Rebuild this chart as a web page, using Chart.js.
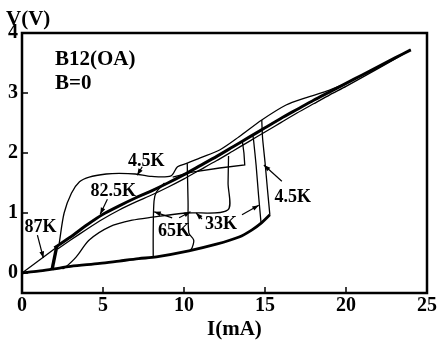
<!DOCTYPE html>
<html>
<head>
<meta charset="utf-8">
<script src="https://cdn.jsdelivr.net/npm/chart.js@4.4.1/dist/chart.umd.min.js"></script>
<style>
  html, body { margin: 0; padding: 0; background: #fff; }
  #wrap { width: 438px; height: 343px; }
</style>
</head>
<body>
<div id="wrap"><canvas id="ivChart"></canvas></div>
<script>
// tick labels
var xTicks = [0, 5, 10, 15, 20, 25];
var yTicks = [0, 1, 2, 3, 4];

// common upper branch (thick)
var mainI = [2, 3, 4, 5, 6, 7, 8, 9, 10, 11, 12, 13, 14, 15, 16, 17, 18, 19, 20, 21, 22, 23, 24];
var mainV = [0.42, 0.6, 0.8, 0.98, 1.12, 1.25, 1.37, 1.5, 1.64, 1.79, 1.94, 2.1, 2.26, 2.42, 2.58, 2.73, 2.88, 3.02, 3.16, 3.3, 3.44, 3.58, 3.72];

// 87K ohmic start
var k87I = [0, 1, 2.1];
var k87V = [0, 0.2, 0.42];

// 82.5K, thin line just under the upper branch
var k82I = [2.2, 3, 4, 5, 6, 7, 8, 9, 10, 11, 12, 13, 14, 15, 16, 17, 18, 19, 20, 22, 24];
var k82V = [0.4, 0.55, 0.73, 0.9, 1.05, 1.18, 1.3, 1.43, 1.57, 1.72, 1.87, 2.03, 2.19, 2.35, 2.51, 2.67, 2.82, 2.97, 3.11, 3.41, 3.72];

// common lower branch (thick)
var lowI = [0, 1, 2, 3, 4.8, 6, 7.2, 8.3, 10.3, 12, 13.4, 14.2, 14.8, 15.3];
var lowV = [0, 0.03, 0.07, 0.11, 0.16, 0.2, 0.24, 0.27, 0.37, 0.48, 0.6, 0.72, 0.84, 0.97];

// 4.5K: return path (hump, plateau, fall)
var k45I = [20, 18.8, 17.5, 16.3, 14.8, 13.4, 12.2, 11, 10.2, 9.6, 9.2, 8, 7, 6, 5.2, 4.15, 3.55, 3.05, 2.6, 2.3];
var k45V = [3.16, 3.03, 2.92, 2.8, 2.55, 2.27, 2.05, 1.92, 1.83, 1.77, 1.62, 1.61, 1.65, 1.66, 1.65, 1.6, 1.52, 1.33, 1.0, 0.5];
// 4.5K: switching up near 15 mA
var k45upI = [15.3, 15.15, 15.0, 14.85, 14.8];
var k45upV = [0.97, 1.4, 1.85, 2.25, 2.55];
// 4.5K: steep drop near 2 mA (thick)
var k45dropI = [2.15, 1.85];
var k45dropV = [0.45, 0.05];

// 33K
var k33I = [2.5, 2.7, 3.35, 4.15, 5.4, 6.8, 8.05, 10.1, 12.7, 12.72, 12.75];
var k33V = [0.07, 0.1, 0.27, 0.55, 0.77, 0.88, 0.93, 1.0, 1.05, 1.5, 1.95];
var k33upI = [14.75, 14.6, 14.45, 14.3, 14.25];
var k33upV = [0.85, 1.3, 1.8, 2.2, 2.3];
var k33stepI = [9.3, 10.5, 12.2, 13.75, 13.7, 13.6];
var k33stepV = [1.6, 1.68, 1.75, 1.8, 2.0, 2.2];

// 65K
var k65aI = [8.1, 8.1, 8.15, 8.3, 8.8];
var k65aV = [0.27, 0.7, 1.2, 1.35, 1.5];
var k65bI = [10.2, 10.25, 10.3, 10.6, 10.5, 10.4];
var k65bV = [1.83, 1.2, 0.67, 0.55, 0.42, 0.38];

function pts(xs, ys) {
    return xs.map(function (x, i) { return { x: x, y: ys[i] }; });
}

function curve(xs, ys, w, t) {
    return {
        data: pts(xs, ys),
        showLine: true,
        borderColor: '#000',
        borderWidth: w,
        pointRadius: 0,
        tension: t,
        fill: false
    };
}

var serif = "'Liberation Serif', 'DejaVu Serif', serif";

// labels with arrows (data coordinates)
var notes = [
    { text: '4.5K', at: [7.67, 1.88], arrows: [[7.42, 1.77, 7.11, 1.63]] },
    { text: '82.5K', at: [5.63, 1.37], arrows: [[5.27, 1.23, 4.83, 0.98]] },
    { text: '87K', at: [1.14, 0.78], arrows: [[0.95, 0.63, 1.32, 0.25]] },
    { text: '65K', at: [9.39, 0.71], arrows: [[9.27, 0.92, 8.16, 1.02], [9.7, 0.92, 10.4, 1.02]] },
    { text: '33K', at: [12.28, 0.83], arrows: [[11.11, 0.9, 10.75, 1.0], [13.58, 0.97, 14.62, 1.13]] },
    { text: '4.5K', at: [16.72, 1.28], arrows: [[16.04, 1.53, 14.93, 1.8]] }
];

var extras = {
    id: 'extras',
    afterDraw: function (chart) {
        var ctx = chart.ctx;
        var a = chart.chartArea;
        var xs = chart.scales.x, ys = chart.scales.y;
        ctx.save();
        ctx.strokeStyle = '#000';
        ctx.fillStyle = '#000';

        // frame
        ctx.lineWidth = 2.5;
        ctx.strokeRect(a.left, a.top, a.right - a.left, a.bottom - a.top);

        // inner tick marks
        ctx.lineWidth = 1.5;
        ctx.beginPath();
        xTicks.slice(1, -1).forEach(function (v) {
            var px = xs.getPixelForValue(v);
            ctx.moveTo(px, a.bottom);
            ctx.lineTo(px, a.bottom - 6);
        });
        yTicks.slice(0, -1).forEach(function (v) {
            var py = ys.getPixelForValue(v);
            ctx.moveTo(a.left, py);
            ctx.lineTo(a.left + 6, py);
        });
        ctx.stroke();

        // titles
        ctx.font = 'bold 21px ' + serif;
        ctx.textAlign = 'left';
        ctx.textBaseline = 'alphabetic';
        ctx.fillText('V(V)', 6, 25);
        ctx.fillText('I(mA)', 207, 335);
        ctx.fillText('B12(OA)', 55, 65);
        ctx.fillText('B=0', 55, 89);

        // labels and arrows
        ctx.font = 'bold 18px ' + serif;
        ctx.textAlign = 'center';
        ctx.textBaseline = 'middle';
        notes.forEach(function (n) {
            ctx.fillText(n.text, xs.getPixelForValue(n.at[0]), ys.getPixelForValue(n.at[1]) + 1);
            n.arrows.forEach(function (ar) {
                var x0 = xs.getPixelForValue(ar[0]), y0 = ys.getPixelForValue(ar[1]);
                var x1 = xs.getPixelForValue(ar[2]), y1 = ys.getPixelForValue(ar[3]);
                var ang = Math.atan2(y1 - y0, x1 - x0);
                ctx.lineWidth = 1.2;
                ctx.beginPath();
                ctx.moveTo(x0, y0);
                ctx.lineTo(x1, y1);
                ctx.stroke();
                ctx.beginPath();
                ctx.moveTo(x1, y1);
                ctx.lineTo(x1 - 7 * Math.cos(ang - 0.35), y1 - 7 * Math.sin(ang - 0.35));
                ctx.lineTo(x1 - 7 * Math.cos(ang + 0.35), y1 - 7 * Math.sin(ang + 0.35));
                ctx.closePath();
                ctx.fill();
            });
        });
        ctx.restore();
    }
};

var ctx = document.getElementById('ivChart').getContext('2d');
var ivChart = new Chart(ctx, {
    type: 'scatter',
    data: {
        datasets: [
            curve(k82I, k82V, 1.3, 0.2),
            curve(k87I, k87V, 1.3, 0),
            curve(mainI, mainV, 3, 0.2),
            curve(lowI, lowV, 2.8, 0.3),
            curve(k45I, k45V, 1.3, 0.3),
            curve(k45upI, k45upV, 1.3, 0.2),
            curve(k45dropI, k45dropV, 3.4, 0),
            curve(k33I, k33V, 1.3, 0.3),
            curve(k33upI, k33upV, 1.3, 0.2),
            curve(k33stepI, k33stepV, 1.3, 0),
            curve(k65aI, k65aV, 1.3, 0.3),
            curve(k65bI, k65bV, 1.3, 0.3)
        ]
    },
    options: {
        responsive: true,
        maintainAspectRatio: false,
        animation: false,
        layout: { padding: { top: 33, right: 10, left: 0, bottom: 0 } },
        plugins: {
            legend: { display: false },
            tooltip: { enabled: false }
        },
        scales: {
            x: {
                type: 'linear',
                min: 0,
                max: 25,
                afterBuildTicks: function (s) { s.ticks = xTicks.map(function (v) { return { value: v }; }); },
                afterFit: function (s) { s.height = 50; },
                grid: { display: false, drawTicks: false },
                border: { display: false },
                ticks: { color: '#000', padding: 1, font: { family: serif, size: 20, weight: 'bold' } }
            },
            y: {
                min: -0.333,
                max: 4,
                afterBuildTicks: function (s) { s.ticks = yTicks.map(function (v) { return { value: v }; }); },
                afterFit: function (s) { s.width = 22; },
                grid: { display: false, drawTicks: false },
                border: { display: false },
                ticks: { color: '#000', padding: 4, font: { family: serif, size: 20, weight: 'bold' } }
            }
        }
    },
    plugins: [extras]
});
</script>
</body>
</html>
